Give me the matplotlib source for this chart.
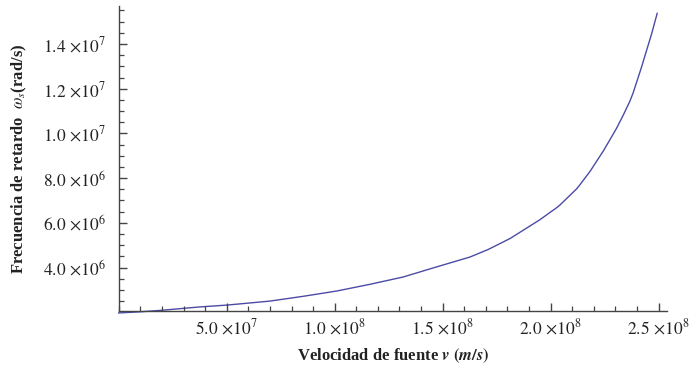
import numpy as np
import matplotlib
matplotlib.use('Agg')
import matplotlib.pyplot as plt
from matplotlib.ticker import FixedLocator, MultipleLocator, FuncFormatter

plt.rcParams['font.family'] = ['Liberation Serif', 'DejaVu Serif']
plt.rcParams['mathtext.fontset'] = 'stix'

# velocidad de fuente (m/s) y frecuencia de retardo (rad/s)
v = [0.0, 1.0e7, 2.0e7, 3.77e7, 5.0e7, 7.0e7, 8.55e7, 1.009e8, 1.163e8,
     1.318e8, 1.472e8, 1.626e8, 1.711e8, 1.812e8, 1.919e8, 1.950e8,
     2.028e8, 2.043e8, 2.120e8, 2.135e8, 2.182e8, 2.244e8, 2.290e8,
     2.306e8, 2.336e8, 2.367e8, 2.382e8, 2.421e8, 2.468e8, 2.493e8]
w = [1.97e6, 2.02e6, 2.09e6, 2.24e6, 2.32e6, 2.50e6, 2.715e6, 2.95e6, 3.25e6,
     3.58e6, 4.03e6, 4.47e6, 4.81e6, 5.30e6, 5.95e6, 6.14e6,
     6.68e6, 6.80e6, 7.52e6, 7.70e6, 8.30e6, 9.22e6, 9.98e6,
     10.25e6, 10.82e6, 11.45e6, 11.82e6, 12.98e6, 14.48e6, 15.37e6]

xticks = [5e7, 1e8, 1.5e8, 2e8, 2.5e8]
yticks = [4e6, 6e6, 8e6, 1e7, 1.2e7, 1.4e7]

fig = plt.figure(figsize=(6.91, 3.68), dpi=100)
ax = fig.add_axes([0.1718, 0.1557, 0.7930, 0.828])

ax.plot(v, w, color='#4b4ba6', lw=1.0, clip_on=False, zorder=1)

ax.set_xlim(0, 2.537e8)
ax.set_ylim(2.07e6, 1.570e7)

for s in ['top', 'right']:
    ax.spines[s].set_visible(False)
for s in ['left', 'bottom']:
    ax.spines[s].set_color('#444444')
    ax.spines[s].set_linewidth(1.0)
    ax.spines[s].set_zorder(3)


def sci(x, pos):
    e = int(np.floor(np.log10(x)))
    m = x / 10**e
    return r'$%.1f\,\times\!10^{%d}$' % (m, e)


ax.xaxis.set_major_locator(FixedLocator(xticks))
ax.yaxis.set_major_locator(FixedLocator(yticks))
ax.xaxis.set_minor_locator(MultipleLocator(1e7))
ax.yaxis.set_minor_locator(MultipleLocator(5e5))
ax.xaxis.set_major_formatter(FuncFormatter(sci))
ax.yaxis.set_major_formatter(FuncFormatter(sci))

ax.tick_params(which='major', direction='in', length=6, width=1.0,
               color='#444444', labelsize=12.5, labelcolor='#222222')
ax.tick_params(which='minor', direction='in', length=3.5, width=0.9,
               color='#444444')
ax.tick_params(axis='y', which='major', pad=9)
ax.tick_params(axis='x', which='major', pad=5)

ax.set_xlabel(r'Velocidad de fuente $\boldsymbol{v}$ $\mathbf{(}\boldsymbol{m/s}\mathbf{)}$',
              fontsize=12, fontweight='bold', color='#222222', labelpad=6)
ax.set_ylabel(r'Frecuencia de retardo  $\boldsymbol{\omega_s}$(rad/s)',
              fontsize=12, fontweight='bold', color='#222222', labelpad=10)

fig.savefig('out.png', dpi=100)
